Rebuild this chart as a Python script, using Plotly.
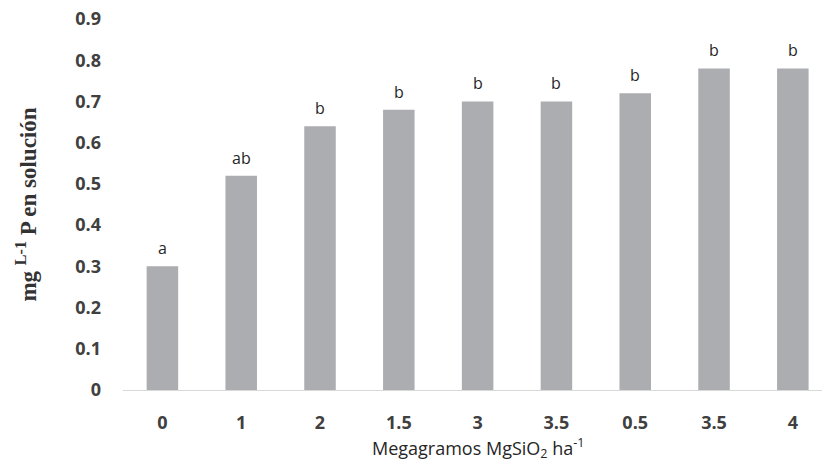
import plotly.graph_objects as go

categories = ["0", "1", "2", "1.5", "3", "3.5", "0.5", "3.5", "4"]
values = [0.30, 0.52, 0.64, 0.68, 0.70, 0.70, 0.72, 0.78, 0.78]
letters = ["a", "ab", "b", "b", "b", "b", "b", "b", "b"]
y_ticks = [0, 0.1, 0.2, 0.3, 0.4, 0.5, 0.6, 0.7, 0.8, 0.9]
x_title = "Megagramos MgSiO<sub>2</sub> ha<sup>-1</sup>"
y_title = "mg <sup>L-1</sup> P en solución"

x_idx = list(range(len(categories)))

fig = go.Figure()
fig.add_trace(go.Bar(
    x=x_idx, y=values,
    marker=dict(color="#ACADB0", line=dict(width=0)),
    width=0.4,
    showlegend=False,
))

for xi, v, lab in zip(x_idx, values, letters):
    fig.add_annotation(
        x=xi, y=v, text=lab, showarrow=False,
        yanchor="bottom", yshift=5,
        font=dict(family="Open Sans", size=16, color="#262626"),
    )

# x-axis title placed as paper annotation
fig.add_annotation(
    xref="paper", yref="paper", x=0.509, y=-0.156,
    xanchor="center", yanchor="middle",
    text=x_title, showarrow=False,
    font=dict(family="Open Sans", size=18, color="#262626"),
)

fig.update_layout(
    width=822, height=465,
    margin=dict(l=123, r=0, t=19, b=75),
    plot_bgcolor="white", paper_bgcolor="white",
    xaxis=dict(
        range=[-0.5, 8.37],
        tickmode="array", tickvals=x_idx, ticktext=categories,
        showgrid=False, zeroline=False,
        showline=True, linecolor="#D9D9D9", linewidth=1,
        ticks="", ticklabelstandoff=16,
        tickfont=dict(family="Open Sans", size=18, color="#404040", weight="bold"),
    ),
    yaxis=dict(
        range=[0, 0.9],
        tickmode="array", tickvals=y_ticks,
        ticktext=[("%g" % t) for t in y_ticks],
        showgrid=False, zeroline=False, showline=False,
        ticks="", ticklabelstandoff=21,
        tickfont=dict(family="Open Sans", size=18, color="#404040", weight="bold"),
        title=dict(
            text=y_title,
            font=dict(family="Liberation Serif", size=23, color="#333333", weight="bold"),
            standoff=32,
        ),
    ),
)

fig.write_html("out.html")
